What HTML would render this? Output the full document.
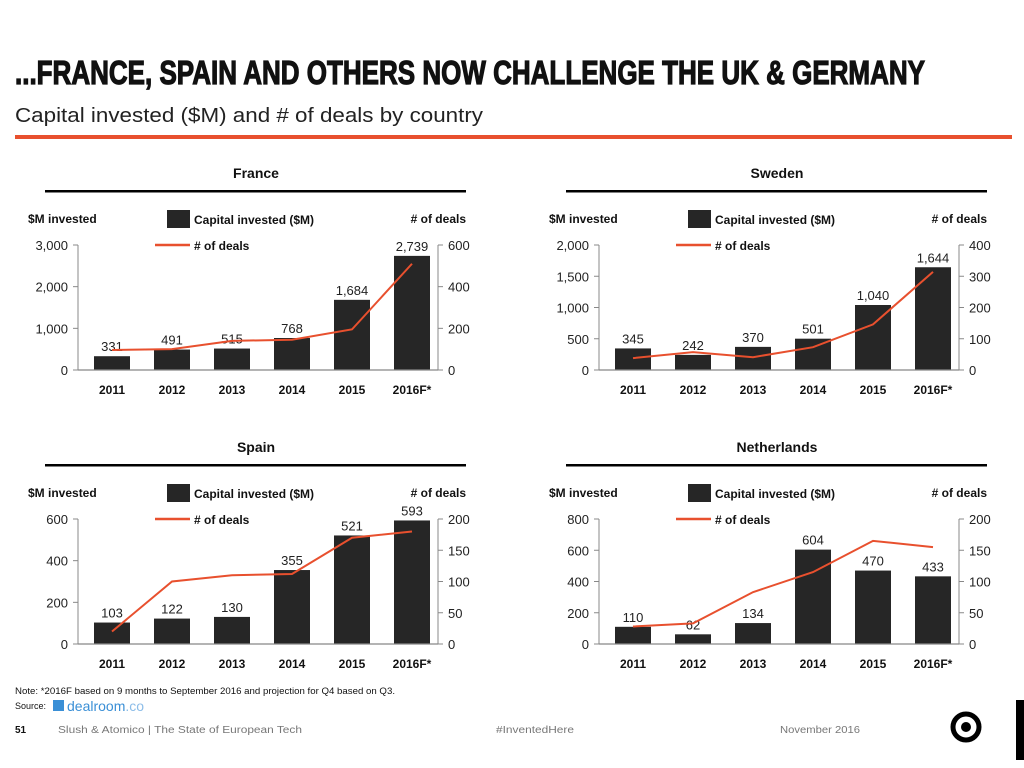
<!DOCTYPE html>
<html><head><meta charset="utf-8"><style>
html,body{margin:0;padding:0;background:#fff;}
svg{display:block;font-family:"Liberation Sans",sans-serif;}
</style></head><body>
<svg id="page" width="1024" height="768" viewBox="0 0 1024 768" xmlns="http://www.w3.org/2000/svg">
<text x="15" y="84" font-size="33" font-weight="bold" fill="#111" stroke="#111" stroke-width="1.2" textLength="910" lengthAdjust="spacingAndGlyphs">...FRANCE, SPAIN AND OTHERS NOW CHALLENGE THE UK &amp; GERMANY</text>
<text x="15" y="122" font-size="20" fill="#222" textLength="468" lengthAdjust="spacingAndGlyphs">Capital invested ($M) and # of deals by country</text>
<rect x="15" y="135" width="997" height="4" fill="#e8502e"/>
<g id="charts"></g>
<text x="15" y="694" font-size="9" fill="#111" textLength="380" lengthAdjust="spacingAndGlyphs">Note: *2016F based on 9 months to September 2016 and projection for Q4 based on Q3.</text>
<text x="15" y="709" font-size="9" fill="#111">Source:</text>
<rect x="53" y="700" width="11" height="11" fill="#3a8fd6"/>
<text x="67" y="711" font-size="14" fill="#3a8fd6">dealroom<tspan fill="#8cbde8">.co</tspan></text>
<text x="15" y="733" font-size="10" font-weight="bold" fill="#111">51</text>
<text x="58" y="733" font-size="10" fill="#777" textLength="244" lengthAdjust="spacingAndGlyphs">Slush &amp; Atomico  |  The State of European Tech</text>
<text x="496" y="733" font-size="10" fill="#777" textLength="78" lengthAdjust="spacingAndGlyphs">#InventedHere</text>
<text x="780" y="733" font-size="10" fill="#777" textLength="80" lengthAdjust="spacingAndGlyphs">November 2016</text>
<g>
<circle cx="966" cy="727" r="13" fill="none" stroke="#000" stroke-width="5"/>
<circle cx="966" cy="727" r="5" fill="#000"/>
</g>
<rect x="1016" y="700" width="8" height="60" fill="#000"/>
</svg>
<script>
const years = ["2011","2012","2013","2014","2015","2016F*"];
const countries = ["France","Sweden","Spain","Netherlands"];
const franceCapital = [331,491,515,768,1684,2739];
const franceDeals = [96,100,140,145,195,510];
const swedenCapital = [345,242,370,501,1040,1644];
const swedenDeals = [38,57,41,73,146,314];
const spainCapital = [103,122,130,355,521,593];
const spainDeals = [20,100,110,112,170,180];
const nlCapital = [110,62,134,604,470,433];
const nlDeals = [28,33,83,115,165,155];
const franceLeftTicks = [0,1000,2000,3000];
const franceRightTicks = [0,200,400,600];
const swedenLeftTicks = [0,500,1000,1500,2000];
const swedenRightTicks = [0,100,200,300,400];
const spainLeftTicks = [0,200,400,600];
const spainRightTicks = [0,50,100,150,200];
const nlLeftTicks = [0,200,400,600,800];
const nlRightTicks = [0,50,100,150,200];

const NS="http://www.w3.org/2000/svg";
const root=document.getElementById('charts');
function mk(tag,attrs,parent,text){const e=document.createElementNS(NS,tag);for(const k in attrs)e.setAttribute(k,attrs[k]);if(text!==undefined)e.textContent=text;parent.appendChild(e);return e;}
function fmt(v){return v.toLocaleString('en-US');}

function drawChart(name,ox,oy,cap,deals,lt,rt){
  const g=mk('g',{transform:`translate(${ox},${oy})`},root);
  
  
  const x0=78,x1=438,y0=370,y1=245;
  const lmax=lt[lt.length-1], rmax=rt[rt.length-1];
  const yL=v=>y0-(v/lmax)*(y0-y1);
  const yR=v=>y0-(v/rmax)*(y0-y1);
  const xC=i=>112+i*60;
  const t=mk('text',{x:256,y:178,'font-size':14,'font-weight':'bold','text-anchor':'middle',fill:'#111'},g,name);
  
  
  const r=mk('rect',{x:45,y:190,width:421,height:2.5,fill:'#000'},g);
  
  
  const la=mk('text',{x:28,y:223,'font-size':12,'font-weight':'bold',fill:'#111'},g,'$M invested');
  
  
  const ra=mk('text',{x:466,y:223,'font-size':12,'font-weight':'bold','text-anchor':'end',fill:'#111'},g,'# of deals');
  
  
  const lb=mk('rect',{x:167,y:210,width:23,height:18,fill:'#262626'},g);
  
  
  const lbt=mk('text',{x:194,y:224,'font-size':12,'font-weight':'bold',fill:'#111'},g,'Capital invested ($M)');
  
  
  const ll=mk('line',{x1:155,y1:245,x2:190,y2:245,stroke:'#e8502e','stroke-width':2.5},g);
  
  
  const llt=mk('text',{x:194,y:250,'font-size':12,'font-weight':'bold',fill:'#111'},g,'# of deals');
  
  
  const axL=mk('line',{x1:x0,y1:y1,x2:x0,y2:y0,stroke:'#888','stroke-width':1},g);
  
  
  const axR=mk('line',{x1:x1,y1:y1,x2:x1,y2:y0,stroke:'#888','stroke-width':1},g);
  
  
  lt.forEach(v=>{
    mk('line',{x1:x0-5,y1:yL(v),x2:x0,y2:yL(v),stroke:'#888'},g);
    const tl=mk('text',{x:x0-10,y:yL(v)+5,'font-size':13,'text-anchor':'end',fill:'#222'},g,fmt(v));
    
    
  });
  rt.forEach(v=>{
    mk('line',{x1:x1,y1:yR(v),x2:x1+5,y2:yR(v),stroke:'#888'},g);
    const tl=mk('text',{x:x1+10,y:yR(v)+5,'font-size':13,fill:'#222'},g,fmt(v));
    
    
  });
  cap.forEach((v,i)=>{
    const b=mk('rect',{x:xC(i)-18,y:yL(v),width:36,height:y0-yL(v),fill:'#262626'},g);
    
    
    const vl=mk('text',{x:xC(i),y:yL(v)-5,'font-size':13,'text-anchor':'middle',fill:'#222'},g,fmt(v));
    
    
    const yl=mk('text',{x:xC(i),y:y0+24,'font-size':12,'font-weight':'bold','text-anchor':'middle',fill:'#111'},g,years[i]);
    
    
  });
  const base=mk('line',{x1:x0,y1:y0,x2:x1,y2:y0,stroke:'#888','stroke-width':1.2},g);
  
  
  const pts=deals.map((v,i)=>`${xC(i)},${yR(v)}`).join(' ');
  const pl=mk('polyline',{points:pts,fill:'none',stroke:'#e8502e','stroke-width':2},g);
  
  
}
drawChart(countries[0],0,0,franceCapital,franceDeals,franceLeftTicks,franceRightTicks);
drawChart(countries[1],521,0,swedenCapital,swedenDeals,swedenLeftTicks,swedenRightTicks);
drawChart(countries[2],0,274,spainCapital,spainDeals,spainLeftTicks,spainRightTicks);
drawChart(countries[3],521,274,nlCapital,nlDeals,nlLeftTicks,nlRightTicks);
</script>
</body></html>
